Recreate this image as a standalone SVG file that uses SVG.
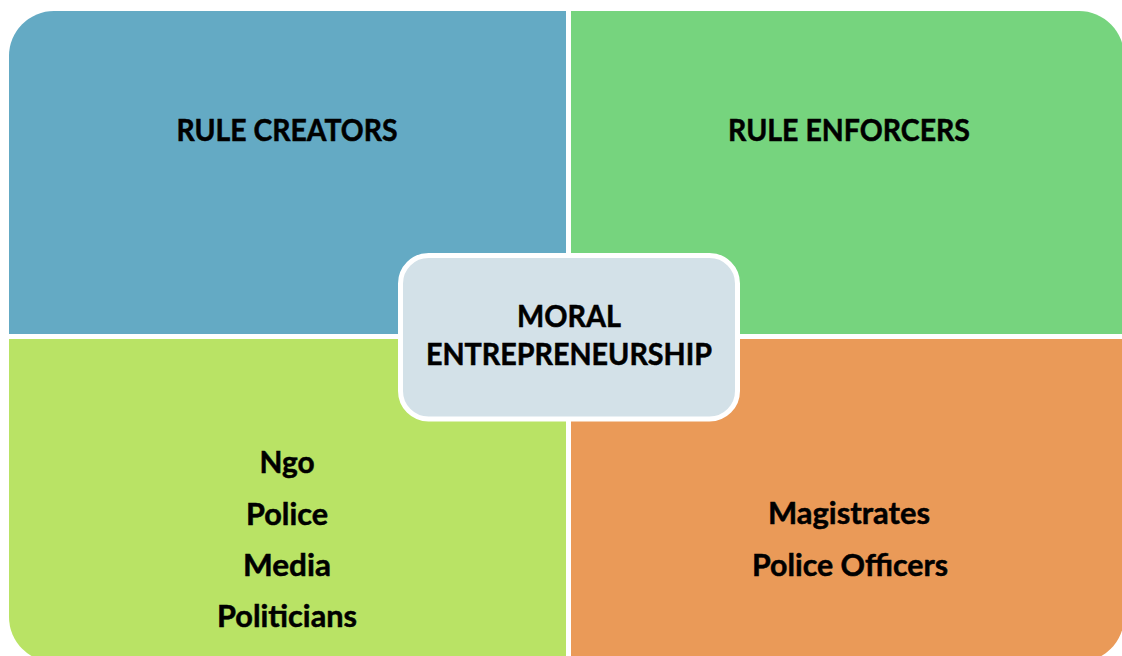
<svg xmlns="http://www.w3.org/2000/svg" width="1122" height="656" viewBox="0 0 1122 656">
<style>
.t{font-family:Lato,"Liberation Sans",Arial,sans-serif;font-weight:700;font-size:30px;fill:#000;stroke:#000;stroke-width:0.5;text-anchor:middle}
</style>
<rect x="0" y="0" width="1122" height="656" fill="#ffffff"/>
<g id="rule-creators">
<path d="M9,56 A45,45 0 0 1 54,11 L566,11 L566,334 L9,334 Z" fill="#64AAC4"/>
<text class="t" x="287" y="141" textLength="221" lengthAdjust="spacingAndGlyphs">RULE CREATORS</text>
</g>
<g id="rule-enforcers">
<path d="M571,11 L1079,11 A45,45 0 0 1 1124,56 L1124,334 L571,334 Z" fill="#76D47E"/>
<text class="t" x="849" y="141" textLength="242" lengthAdjust="spacingAndGlyphs">RULE ENFORCERS</text>
</g>
<g id="creators-list">
<path d="M9,339 L566,339 L566,662 L54,662 A45,45 0 0 1 9,617 Z" fill="#B9E365"/>
<text class="t" x="287" y="473" textLength="55" lengthAdjust="spacingAndGlyphs">Ngo</text>
<text class="t" x="287" y="525" textLength="82" lengthAdjust="spacingAndGlyphs">Police</text>
<text class="t" x="287" y="576" textLength="88" lengthAdjust="spacingAndGlyphs">Media</text>
<text class="t" x="287" y="627" textLength="140" lengthAdjust="spacingAndGlyphs">Politicians</text>
</g>
<g id="enforcers-list">
<path d="M571,339 L1124,339 L1124,617 A45,45 0 0 1 1079,662 L571,662 Z" fill="#EA9A58"/>
<text class="t" x="849" y="524" textLength="162" lengthAdjust="spacingAndGlyphs">Magistrates</text>
<text class="t" x="850" y="576" textLength="196" lengthAdjust="spacingAndGlyphs">Police Officers</text>
</g>
<g id="moral-entrepreneurship">
<rect x="400.5" y="255.5" width="337" height="163.5" rx="28" ry="28" fill="#D3E1E8" stroke="#ffffff" stroke-width="5"/>
<text class="t" x="569" y="327" textLength="104" lengthAdjust="spacingAndGlyphs">MORAL</text>
<text class="t" x="569" y="365" textLength="286" lengthAdjust="spacingAndGlyphs">ENTREPRENEURSHIP</text>
</g>
<g id="connectors"></g>
</svg>
